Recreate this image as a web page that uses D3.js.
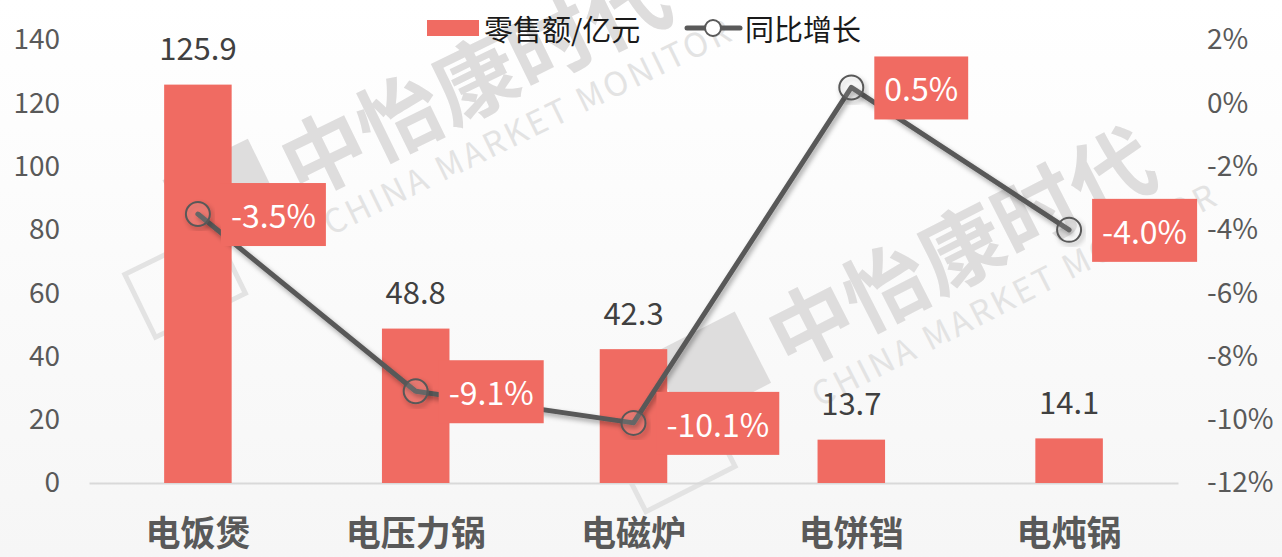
<!DOCTYPE html>
<meta charset="utf-8">
<style>
    body { margin: 0; background: #ffffff; }
    svg { display: block; }
    text { font-family: "Noto Sans CJK SC", "Noto Sans", sans-serif; }
</style>

<script src="https://d3js.org/d3.v7.min.js"></script>

<svg id="chart" width="1282" height="557"></svg>

<script>

// Data

var categories = ['电饭煲', '电压力锅', '电磁炉', '电饼铛', '电炖锅'];
var sales = [125.9, 48.8, 42.3, 13.7, 14.1];          // 零售额/亿元
var growth = [-3.5, -9.1, -10.1, 0.5, -4.0];          // 同比增长, %
var leftTicks = [0, 20, 40, 60, 80, 100, 120, 140];
var rightTicks = [-12, -10, -8, -6, -4, -2, 0, 2];

var barColor = '#f06b62';
var lineColor = '#595959';

var svg = d3.select('svg#chart');
var width = +svg.attr('width');
var height = +svg.attr('height');

var plotLeft = 89, plotRight = 1178;
var plotTop = 40, plotBottom = 483;

var defs = svg.append('defs');

var bg = defs.append('linearGradient')
    .attr('id', 'bg').attr('x1', 0).attr('y1', 0).attr('x2', 0).attr('y2', 1);
bg.append('stop').attr('offset', '0%').attr('stop-color', '#ffffff');
bg.append('stop').attr('offset', '100%').attr('stop-color', '#f6f6f6');

var shadow = defs.append('filter')
    .attr('id', 'shadow').attr('x', '-20%').attr('y', '-20%').attr('width', '140%').attr('height', '140%');
shadow.append('feDropShadow')
    .attr('dx', 2).attr('dy', 3).attr('stdDeviation', 2.5)
    .attr('flood-color', '#000').attr('flood-opacity', 0.35);

svg.append('rect')
    .attr('width', width).attr('height', height)
    .attr('fill', 'url(#bg)');


// Watermark (behind everything)

var drawWatermark = function (x, y, angle) {
    var g = svg.append('g')
        .attr('transform', 'translate(' + x + ',' + y + ') rotate(' + angle + ')');
    g.append('rect')
        .attr('x', -115).attr('y', -78).attr('width', 95).attr('height', 80)
        .attr('fill', '#dedddd');
    g.append('rect')
        .attr('x', -190).attr('y', -10).attr('width', 100).attr('height', 70)
        .attr('fill', 'none').attr('stroke', '#e3e3e3').attr('stroke-width', 5);
    g.append('text')
        .attr('x', 0).attr('y', 0)
        .attr('font-size', 84).attr('font-weight', 700)
        .attr('fill', '#dedddd')
        .text('中怡康时代');
    g.append('text')
        .attr('x', 12).attr('y', 46)
        .attr('font-size', 33).attr('letter-spacing', 3)
        .attr('fill', '#e3e3e3')
        .text('CHINA MARKET MONITOR');
};

drawWatermark(300, 200, -26);
drawWatermark(788, 372, -27);


// Scales

var x = d3.scaleBand()
    .domain(categories)
    .range([plotLeft, plotRight])
    .paddingInner(0.69)
    .paddingOuter(0.345);

var yLeft = d3.scaleLinear().domain([0, 140]).range([plotBottom, plotTop]);
var yRight = d3.scaleLinear().domain([-12, 2]).range([plotBottom, plotTop]);


// Axes

var leftAxis = svg.append('g')
    .attr('transform', 'translate(60,0)')
    .call(d3.axisLeft(yLeft).tickValues(leftTicks).tickSize(0).tickPadding(0));
leftAxis.select('.domain').remove();
leftAxis.selectAll('text')
    .attr('font-family', '"Noto Sans CJK SC", sans-serif')
    .attr('font-size', 28).attr('fill', '#595959');

var rightAxis = svg.append('g')
    .attr('transform', 'translate(1207,0)')
    .call(d3.axisRight(yRight).tickValues(rightTicks).tickSize(0).tickPadding(0)
        .tickFormat(function (d) { return d + '%'; }));
rightAxis.select('.domain').remove();
rightAxis.selectAll('text')
    .attr('font-family', '"Noto Sans CJK SC", sans-serif')
    .attr('font-size', 28).attr('fill', '#595959');

var bottomAxis = svg.append('g')
    .attr('transform', 'translate(0,' + plotBottom + ')')
    .call(d3.axisBottom(x).tickSize(0).tickPadding(38));
bottomAxis.select('.domain')
    .attr('stroke', '#d9d9d9').attr('stroke-width', 2);
bottomAxis.selectAll('text')
    .attr('font-family', '"Noto Sans CJK SC", sans-serif')
    .attr('font-size', 35).attr('font-weight', 700)
    .attr('fill', '#595959');


// Bars and their value labels

svg.append('g').selectAll('rect')
    .data(sales)
    .join('rect')
    .attr('x', function (d, i) { return x(categories[i]); })
    .attr('y', function (d) { return yLeft(d); })
    .attr('width', x.bandwidth())
    .attr('height', function (d) { return yLeft(0) - yLeft(d); })
    .attr('fill', barColor);

svg.append('g').selectAll('text')
    .data(sales)
    .join('text')
    .attr('x', function (d, i) { return x(categories[i]) + x.bandwidth() / 2; })
    .attr('y', function (d) { return yLeft(d) - 38; })
    .attr('text-anchor', 'middle')
    .attr('dominant-baseline', 'central')
    .attr('font-size', 31)
    .attr('fill', '#404040')
    .text(function (d) { return d.toFixed(1); });


// Growth line

var linePoints = growth.map(function (d, i) {
    return [x(categories[i]) + x.bandwidth() / 2, yRight(d)];
});

svg.append('path')
    .attr('d', d3.line()(linePoints))
    .attr('fill', 'none')
    .attr('stroke', lineColor)
    .attr('stroke-width', 5)
    .attr('stroke-linejoin', 'round')
    .attr('stroke-linecap', 'round')
    .attr('filter', 'url(#shadow)');

svg.append('g').selectAll('circle')
    .data(linePoints)
    .join('circle')
    .attr('cx', function (d) { return d[0]; })
    .attr('cy', function (d) { return d[1]; })
    .attr('r', 12)
    .attr('fill', 'rgba(255,255,255,0.08)')
    .attr('stroke', lineColor)
    .attr('stroke-width', 2)
    .attr('filter', 'url(#shadow)');

// Growth labels in red boxes, right of each point
var labelGroups = svg.append('g').selectAll('g')
    .data(growth)
    .join('g')
    .attr('transform', function (d, i) {
        return 'translate(' + (linePoints[i][0] + 23) + ',' + linePoints[i][1] + ')';
    });

labelGroups.append('rect').attr('fill', barColor);
labelGroups.append('text')
    .attr('x', 10)
    .attr('dominant-baseline', 'central')
    .attr('font-size', 32)
    .attr('fill', '#ffffff')
    .text(function (d) { return d.toFixed(1) + '%'; });

labelGroups.each(function () {
    var g = d3.select(this);
    var w = g.select('text').node().getComputedTextLength();
    g.select('rect')
        .attr('x', 0).attr('y', -31)
        .attr('width', w + 20).attr('height', 63);
});


// Legend

var legend = svg.append('g');
legend.append('rect')
    .attr('x', 427).attr('y', 20).attr('width', 52).attr('height', 16)
    .attr('fill', barColor);
legend.append('text')
    .attr('x', 484).attr('y', 28)
    .attr('dominant-baseline', 'central')
    .attr('font-size', 29).attr('fill', '#1a1a1a')
    .text('零售额/亿元');
legend.append('line')
    .attr('x1', 687).attr('x2', 740).attr('y1', 28).attr('y2', 28)
    .attr('stroke', lineColor).attr('stroke-width', 5)
    .attr('stroke-linecap', 'round');
legend.append('circle')
    .attr('cx', 713).attr('cy', 28).attr('r', 8)
    .attr('fill', '#ffffff').attr('stroke', lineColor).attr('stroke-width', 2);
legend.append('text')
    .attr('x', 745).attr('y', 28)
    .attr('dominant-baseline', 'central')
    .attr('font-size', 29).attr('fill', '#1a1a1a')
    .text('同比增长');

</script>
